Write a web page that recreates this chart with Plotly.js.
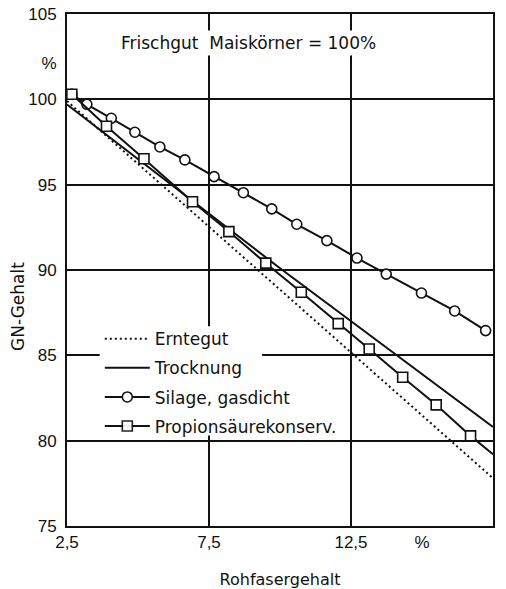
<!DOCTYPE html>
<html>
<head>
<meta charset="utf-8">
<script src="https://cdn.plot.ly/plotly-3.0.1.min.js"></script>
<style>html,body{margin:0;padding:0;background:#fff;}#chart{width:506px;height:589px;}</style>
</head>
<body>
<div id="chart"></div>
<script>
// Series data
const erntegutX = [2.5, 10.0, 17.5];
const erntegutY = [99.9, 88.85, 77.8];

const trocknungX = [2.5, 10.0, 17.5];
const trocknungY = [99.7, 90.1, 80.8];

const silageX = [2.67, 3.2, 4.06, 4.89, 5.77, 6.65, 7.68, 8.71, 9.71, 10.59, 11.65, 12.71, 13.74, 14.98, 16.15, 17.24];
const silageY = [100.3, 99.71, 98.89, 98.07, 97.21, 96.45, 95.47, 94.53, 93.58, 92.68, 91.72, 90.7, 89.76, 88.65, 87.6, 86.45];

const propX = [2.67, 3.89, 5.21, 6.92, 8.2, 9.5, 10.75, 12.05, 13.14, 14.32, 15.5, 16.71, 17.5];
const propY = [100.3, 98.42, 96.52, 94.0, 92.25, 90.4, 88.7, 86.86, 85.37, 83.72, 82.1, 80.28, 79.2];

const seriesNames = ['Erntegut', 'Trocknung', 'Silage, gasdicht', 'Propionsäurekonserv.'];

const xTickVals = [2.5, 7.5, 12.5, 15, 17.5];
const xTickText = ['2,5', '7,5', '12,5', '%', '17,5'];
const xGridVals = [7.5, 12.5];

const yTickVals = [75, 80, 85, 90, 95, 100, 102.1, 105];
const yTickText = ['75', '80', '85', '90', '95', '100', '%', '105'];
const yGridVals = [80, 85, 90, 95, 100];

const titleText = 'Frischgut\u00a0\u00a0Maiskörner = 100%';
const xTitle = 'Rohfasergehalt';
const yTitle = 'GN-Gehalt';

const ink = '#111';
const textFont = {family: 'DejaVu Sans', size: 17, color: ink};
const tickFont = {family: 'Liberation Sans, Arial', size: 17, color: ink};

const traces = [
  {x: erntegutX, y: erntegutY, name: seriesNames[0], mode: 'lines', legendgroup: 'a',
   line: {color: ink, width: 2, dash: '2px,3px'}},
  {x: trocknungX, y: trocknungY, name: seriesNames[1], mode: 'lines', legendgroup: 'b',
   line: {color: ink, width: 2}},
  {x: silageX, y: silageY, name: seriesNames[2], mode: 'lines+markers', legendgroup: 'c',
   line: {color: ink, width: 2},
   marker: {symbol: 'circle', size: 10, color: '#ffffff', line: {color: ink, width: 1.6}}},
  {x: propX, y: propY, name: seriesNames[3], mode: 'lines+markers', legendgroup: 'd',
   line: {color: ink, width: 2},
   marker: {symbol: 'square', size: 10, color: '#ffffff', opacity: propX.map(v => v >= 17.5 ? 0 : 1),
            line: {color: ink, width: 1.6}}}
];

const layout = {
  width: 506, height: 589,
  margin: {l: 67, r: 13, t: 14, b: 63},
  paper_bgcolor: '#fff', plot_bgcolor: '#fff',
  showlegend: true,
  legend: {x: 0.077, y: 0.40, xanchor: 'left', yanchor: 'top', bgcolor: 'rgba(0,0,0,0)',
           borderwidth: 0, font: textFont, itemwidth: 45, tracegroupgap: 4, traceorder: 'grouped'},
  xaxis: {range: [2.5, 17.5], tickmode: 'array', tickvals: xTickVals, ticktext: xTickText,
          showgrid: false, zeroline: false, ticks: '', tickfont: tickFont,
          showline: true, mirror: true, linecolor: ink, linewidth: 2,
          minor: {tickmode: 'array', tickvals: xGridVals, showgrid: true, gridcolor: ink, gridwidth: 2, ticks: ''},
          title: {text: xTitle, font: {family: 'DejaVu Sans', size: 16, color: ink}, standoff: 22},
          automargin: false},
  yaxis: {range: [75, 105], tickmode: 'array', tickvals: yTickVals, ticktext: yTickText,
          showgrid: false, zeroline: false, ticks: '', tickfont: tickFont, ticklabelstandoff: 5,
          showline: true, mirror: true, linecolor: ink, linewidth: 2,
          minor: {tickmode: 'array', tickvals: yGridVals, showgrid: true, gridcolor: ink, gridwidth: 2, ticks: ''},
          title: {text: ''}, automargin: false},
  shapes: [
    // white patch behind the legend text that interrupts the grid (above grid, below traces)
    {type: 'rect', xref: 'x', yref: 'y', x0: 3.65, x1: 9.37, y0: 80.3, y1: 86.7,
     fillcolor: '#fff', line: {width: 0}, layer: 'between'}
  ],
  annotations: [
    {text: titleText, xref: 'x', yref: 'y', x: 8.9, y: 103.3, showarrow: false,
     font: textFont, bgcolor: '#fff', borderpad: 2},
    {text: yTitle, xref: 'paper', yref: 'paper', x: -0.143, y: 0.428, showarrow: false,
     textangle: -90, font: textFont}
  ]
};

Plotly.newPlot('chart', traces, layout, {displayModeBar: false, staticPlot: true});
</script>
</body>
</html>
